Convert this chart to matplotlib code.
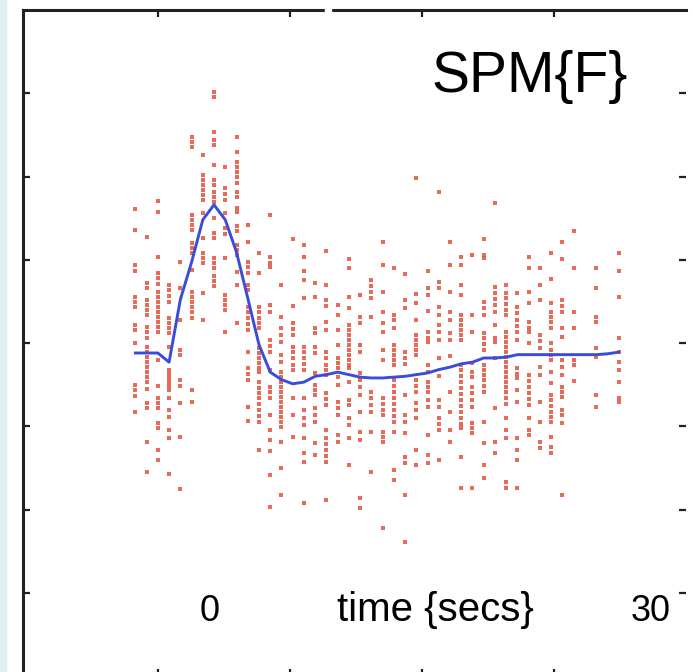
import matplotlib.pyplot as plt
from matplotlib.patches import Rectangle

plt.rcParams['font.family'] = ['Liberation Sans', 'DejaVu Sans']

# peri-stimulus time bins (secs)
times = list(range(-7, 37))

# fitted response (blue line), one value per bin
fitted = [-0.12, -0.12, -0.12, -0.23, 0.52, 0.97, 1.48, 1.66, 1.48, 1.09,
          0.54, -0.02, -0.35, -0.44, -0.49, -0.47, -0.40, -0.38, -0.35, -0.38,
          -0.41, -0.42, -0.42, -0.41, -0.40, -0.38, -0.36, -0.32, -0.29, -0.25,
          -0.23, -0.18, -0.18, -0.17, -0.14, -0.14, -0.14, -0.14, -0.14, -0.14,
          -0.14, -0.14, -0.13, -0.11]

# observed responses in each bin (red dots)
observed = [
    [1.61, 1.36, 0.94, 0.86, 0.55, 0.49, 0.43, 0.22, 0.16, 0.0, -0.50, -0.56, -0.64, -0.83],
    [1.27, 0.72, 0.66, 0.52, 0.46, 0.40, 0.34, 0.19, 0.13, 0.06, -0.05, -0.11, -0.17, -0.23,
     -0.29, -0.35, -0.41, -0.47, -0.55, -0.72, -0.78, -1.19, -1.55],
    [1.70, 1.57, 1.03, 0.84, 0.78, 0.71, 0.61, 0.55, 0.49, 0.43, 0.37, 0.31, 0.25, 0.19,
     0.13, -0.20, -0.52, -0.66, -0.72, -0.78, -0.96, -1.02, -1.28, -1.40],
    [0.70, 0.64, 0.56, 0.49, 0.30, 0.24, 0.18, 0.12, -0.05, -0.32, -0.37, -0.42, -0.47,
     -0.52, -0.56, -0.66, -0.80, -0.89, -1.04, -1.14, -1.57],
    [0.97, 0.66, 0.28, -0.08, -0.14, -0.44, -0.52, -0.72, -1.13, -1.75],
    [2.47, 2.41, 2.35, 1.54, 1.48, 1.42, 1.36, 1.20, 1.14, 1.08, 0.88, 0.61, 0.55, 0.49,
     0.43, 0.37, 0.30, -0.56, -0.71],
    [2.26, 2.02, 1.96, 1.90, 1.84, 1.78, 1.72, 1.56, 1.26, 1.08, 1.02, 0.96, 0.60, 0.28],
    [3.02, 2.95, 2.53, 2.44, 2.38, 2.14, 1.96, 1.90, 1.81, 1.75, 1.69, 1.50, 1.32, 1.26,
     1.02, 0.96, 0.90, 0.80, 0.74, 0.68],
    [2.12, 1.86, 1.79, 1.72, 1.56, 1.38, 1.31, 1.02, 0.58, 0.52, 0.46, 0.40, 0.13],
    [2.47, 2.29, 2.17, 2.11, 2.05, 1.99, 1.92, 1.81, 1.75, 1.62, 1.57, 1.40, 1.34, 1.18,
     1.12, 1.06, 0.85, 0.70, 0.24],
    [1.42, 1.21, 0.97, 0.91, 0.84, 0.70, 0.64, 0.43, 0.37, 0.30, 0.23, 0.16, -0.11, -0.30,
     -0.37, -0.44, -0.77, -0.94],
    [1.08, 0.84, 0.43, 0.37, 0.30, 0.24, 0.18, -0.06, -0.12, -0.18, -0.24, -0.30, -0.35,
     -0.47, -0.54, -0.60, -0.66, -0.73, -0.80, -0.88, -0.95, -1.28],
    [1.54, 1.03, 0.96, 0.91, 0.46, 0.37, 0.04, -0.04, -0.11, -0.32, -0.53, -0.59, -0.66,
     -0.86, -1.04, -1.16, -1.30, -1.58, -1.97],
    [0.70, 0.31, 0.18, 0.10, 0.01, -0.14, -0.23, -0.35, -0.41, -0.47, -0.53, -0.59, -0.65,
     -0.71, -0.77, -0.83, -0.89, -0.95, -1.01, -1.19, -1.50, -1.82],
    [1.25, 0.44, 0.24, 0.17, 0.10, -0.05, -0.11, -0.18, -0.26, -0.32, -0.66, -0.86, -1.13],
    [1.18, 1.03, 0.86, 0.76, 0.54, -0.05, -0.11, -0.18, -0.25, -0.32, -0.66, -0.80, -0.90,
     -0.98, -1.14, -1.32, -1.43, -1.92],
    [0.72, 0.55, 0.18, 0.12, -0.05, -0.12, -0.36, -0.50, -0.56, -0.62, -0.78, -0.86, -0.95,
     -1.20, -1.34],
    [1.10, 0.70, 0.52, 0.44, 0.25, 0.16, -0.11, -0.18, -0.26, -0.32, -0.38, -0.60, -0.67,
     -0.74, -1.04, -1.14, -1.21, -1.28, -1.36, -1.43, -1.88],
    [0.46, 0.34, 0.16, -0.02, -0.18, -0.24, -0.30, -0.41, -0.50, -0.71, -0.78, -0.86, -1.10, -1.19],
    [1.01, 0.90, 0.55, 0.42, 0.22, 0.16, 0.10, 0.04, -0.02, -0.08, -0.14, -0.20, -0.26,
     -0.30, -0.47, -0.68, -0.74, -0.90, -0.98, -1.14, -1.46],
    [0.58, 0.31, 0.24, -0.02, -0.11, -0.36, -0.44, -0.53, -0.62, -0.83, -1.07, -1.16, -1.86, -1.98],
    [0.76, 0.68, 0.61, 0.54, 0.31, -0.59, -0.66, -0.74, -0.83, -1.07, -1.55],
    [1.21, 0.94, 0.61, 0.37, 0.24, 0.13, -0.08, -0.20, -0.66, -0.73, -0.80, -0.86, -1.07,
     -1.13, -1.19, -2.22],
    [0.90, 0.34, 0.28, 0.18, -0.02, -0.08, -0.14, -0.20, -0.26, -0.44, -0.52, -0.59, -0.66,
     -0.73, -0.80, -0.88, -0.95, -1.07, -1.52, -1.64],
    [0.83, 0.52, 0.42, -0.11, -0.18, -0.25, -0.62, -0.86, -0.95, -1.08, -1.37, -1.44, -1.82, -2.39],
    [1.98, 0.59, 0.48, 0.28, 0.10, 0.04, -0.02, -0.08, -0.14, -0.44, -0.52, -0.59, -0.72,
     -0.80, -0.90, -1.28, -1.46],
    [0.86, 0.66, 0.58, 0.38, 0.13, 0.06, 0.01, -0.26, -0.35, -0.47, -0.53, -0.59, -0.68,
     -0.77, -1.10, -1.34, -1.44],
    [1.81, 0.73, 0.66, 0.43, 0.34, 0.22, 0.13, 0.04, -0.18, -0.40, -0.68, -0.77, -0.90,
     -0.97, -1.04, -1.40],
    [1.21, 0.94, 0.61, 0.37, 0.28, 0.12, 0.04, -0.16, -0.59, -0.83, -1.04, -1.19],
    [1.03, 0.94, 0.70, 0.58, 0.34, 0.28, 0.22, 0.16, 0.10, 0.04, -0.26, -0.32, -0.40,
     -0.47, -0.54, -0.61, -0.68, -0.76, -0.83, -0.90, -0.97, -1.02, -1.37, -1.74],
    [1.06, 0.34, 0.13, -0.24, -0.35, -0.41, -0.53, -0.60, -0.68, -0.77, -0.96, -1.02, -1.08, -1.74],
    [1.25, 1.06, 1.02, 0.49, 0.42, 0.34, 0.12, 0.06, -0.01, -0.08, -0.26, -0.32, -0.38,
     -0.44, -0.52, -0.59, -0.95, -1.20, -1.46, -1.62],
    [1.68, 0.67, 0.60, 0.53, 0.46, 0.37, 0.22, 0.06, 0.01, -0.18, -0.78, -1.19, -1.32],
    [0.70, 0.60, 0.54, 0.47, 0.40, 0.34, 0.13, 0.07, 0.01, -0.05, -0.11, -0.17, -0.23,
     -0.29, -0.35, -0.41, -0.47, -0.53, -0.59, -0.66, -0.73, -0.90, -1.04, -1.14, -1.67, -1.74],
    [0.60, 0.43, 0.36, 0.28, 0.20, 0.13, 0.04, -0.30, -0.37, -0.42, -0.56, -0.71, -1.14,
     -1.28, -1.40, -1.74],
    [1.03, 0.90, 0.61, 0.48, 0.25, 0.18, 0.13, 0.0, -0.38, -0.46, -0.53, -0.60, -0.67,
     -0.74, -0.90, -1.04, -1.10],
    [0.90, 0.70, 0.52, 0.10, 0.02, -0.06, -0.29, -0.38, -0.71, -0.95, -1.19, -1.26],
    [1.08, 0.77, 0.48, 0.37, 0.31, 0.25, 0.18, 0.0, -0.08, -0.14, -0.20, -0.35, -0.48,
     -0.62, -0.68, -0.76, -0.83, -0.89, -0.95, -1.13, -1.25, -1.32],
    [1.21, 1.01, 0.52, 0.44, 0.37, 0.18, 0.07, -0.20, -0.29, -0.38, -0.53, -0.59, -0.65,
     -0.80, -0.86, -0.96, -1.82],
    [1.34, 0.90, 0.37, 0.18, -0.20, -0.26, -0.46],
    [],
    [0.90, 0.66, 0.31, 0.25, -0.06, -0.17, -0.62, -0.77],
    [],
    [1.08, 0.86, 0.55, 0.06, -0.11, -0.23, -0.32, -0.47, -0.66, -0.71],
]

fig = plt.figure(figsize=(6.93, 6.72), dpi=100)
# pale strip at the left edge of the screenshot
fig.patches.append(Rectangle((0, 0), 6 / 693, 1, transform=fig.transFigure,
                             color='#dcf0f5', zorder=0))

ax = fig.add_axes([23 / 693, -4 / 672, 663 / 693, 666 / 672])

xs = [t for t, col in zip(times, observed) for _ in col]
ys = [v for col in observed for v in col]
ax.scatter(xs, ys, s=5.5, marker='s', color='#e4503c', alpha=0.85, linewidths=0, zorder=2)
ax.plot(times, fitted, color='#3a4dd8', lw=2.1, zorder=3)

ax.set_xlim(-17, 42)
ax.set_ylim(-4, 4)
ax.set_xticks([-5, 6.75, 18.5, 30.25])
ax.set_yticks(range(-3, 4))
ax.tick_params(direction='in', length=5, width=1.6, top=True, right=True,
               labelbottom=False, labelleft=False, color='#222222')
for side in ['left', 'top', 'bottom']:
    ax.spines[side].set_linewidth(2.2)
    ax.spines[side].set_color('#222222')
ax.spines['right'].set_visible(False)

# small break in the top frame line, as in the screenshot
fig.patches.append(Rectangle((325 / 693, 1 - 16 / 672), 6 / 693, 12 / 672,
                             transform=fig.transFigure, color='white', zorder=5))

fig.text(530 / 693, 1 - 92 / 672, 'SPM{F}', fontsize=41, ha='center', va='baseline')
fig.text(210 / 693, 1 - 621 / 672, '0', fontsize=26, ha='center', va='baseline')
fig.text(337 / 693, 1 - 621 / 672, 'time {secs}', fontsize=29, ha='left', va='baseline')
fig.text(651 / 693, 1 - 621 / 672, '30', fontsize=26, ha='center', va='baseline')

fig.savefig('out.png', dpi=100)
